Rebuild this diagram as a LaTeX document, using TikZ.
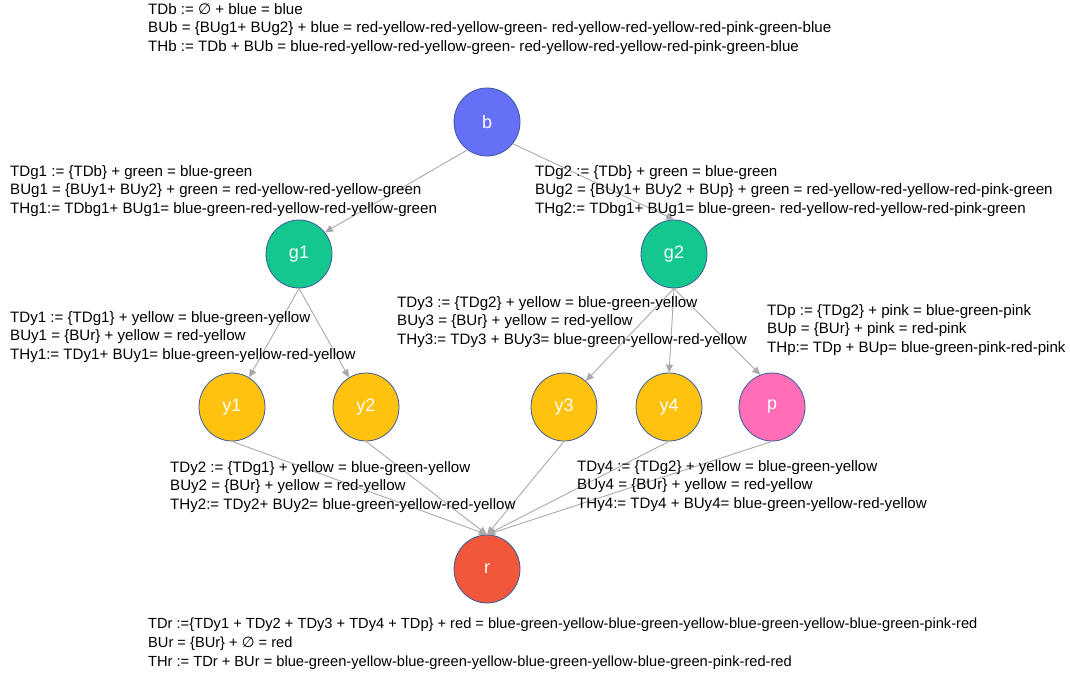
\documentclass[tikz,border=0pt]{standalone}
\usepackage{fontspec}
\setmainfont{Liberation Sans}
\newfontfamily\symfont{DejaVu Sans}
\usetikzlibrary{arrows.meta,shapes.geometric}
\definecolor{cb}{HTML}{6570F6}
\definecolor{cg}{HTML}{13C78E}
\definecolor{cy}{HTML}{FFC20E}
\definecolor{cp}{HTML}{FF6EB7}
\definecolor{cr}{HTML}{F0573B}
\definecolor{nodeedge}{HTML}{3A5A9A}
\definecolor{edgegray}{HTML}{AAAAAA}
\newcommand{\es}{{\symfont\char"2205}}
\begin{document}
\begin{tikzpicture}[x=1pt,y=-1pt,
  vert/.style={ellipse, draw=nodeedge, line width=0.8pt, minimum width=66pt, minimum height=68pt, inner sep=0pt, text=white, font=\fontsize{18}{18}\selectfont},
  info/.style={anchor=north west, inner sep=0pt, align=left, font=\fontsize{15.1}{18.6}\selectfont},
  link/.style={draw=edgegray, line width=0.9pt, -{Triangle[length=8pt,width=7pt]}}]
\useasboundingbox (0,0) rectangle (1070,677);
\fill[white] (0,0) rectangle (1070,677);

\node[vert, fill=cb] (b) at (487,122) {b};
\node[vert, fill=cg] (g1) at (299,254) {g1};
\node[vert, fill=cg] (g2) at (674,254) {g2};
\node[vert, fill=cy] (y1) at (232,407) {y1};
\node[vert, fill=cy] (y2) at (366,407) {y2};
\node[vert, fill=cy] (y3) at (564,407) {y3};
\node[vert, fill=cy] (y4) at (669,407) {y4};
\node[vert, fill=cp] (p) at (772,407) {p};
\node[vert, fill=cr] (r) at (487,569) {r};

\draw[link] (b.235) -- (g1.40);
\draw[link] (b.-40) -- (g2.north);
\draw[link] (g1.south) -- (y1.60);
\draw[link] (g1.south) -- (y2.120);
\draw[link] (g2.south) -- (y3.50);
\draw[link] (g2.south) -- (y4.north);
\draw[link] (g2.south) -- (p.110);
\draw[link] (y1.south) -- (r.north);
\draw[link] (y2.south) -- (r.north);
\draw[link] (y3.south) -- (r.north);
\draw[link] (y4.south) -- (r.north);
\draw[link] (p.south) -- (r.north);

\node[info] (tb) at (148,3) {TDb := \es{} + blue = blue\\
BUb = \{BUg1+ BUg2\} + blue = red-yellow-red-yellow-green- red-yellow-red-yellow-red-pink-green-blue\\
THb := TDb + BUb = blue-red-yellow-red-yellow-green- red-yellow-red-yellow-red-pink-green-blue};

\node[info] (tg1) at (10,165) {TDg1 := \{TDb\} + green = blue-green\\
BUg1 = \{BUy1+ BUy2\} + green = red-yellow-red-yellow-green\\
THg1:= TDbg1+ BUg1= blue-green-red-yellow-red-yellow-green};

\node[info] (tg2) at (535,165) {TDg2 := \{TDb\} + green = blue-green\\
BUg2 = \{BUy1+ BUy2 + BUp\} + green = red-yellow-red-yellow-red-pink-green\\
THg2:= TDbg1+ BUg1= blue-green- red-yellow-red-yellow-red-pink-green};

\node[info] (ty1) at (10,311) {TDy1 := \{TDg1\} + yellow = blue-green-yellow\\
BUy1 = \{BUr\} + yellow = red-yellow\\
THy1:= TDy1+ BUy1= blue-green-yellow-red-yellow};

\node[info] (ty3) at (397,296) {TDy3 := \{TDg2\} + yellow = blue-green-yellow\\
BUy3 = \{BUr\} + yellow = red-yellow\\
THy3:= TDy3 + BUy3= blue-green-yellow-red-yellow};

\node[info] (tp) at (767,304) {TDp := \{TDg2\} + pink = blue-green-pink\\
BUp = \{BUr\} + pink = red-pink\\
THp:= TDp + BUp= blue-green-pink-red-pink};

\node[info] (ty2) at (170,461) {TDy2 := \{TDg1\} + yellow = blue-green-yellow\\
BUy2 = \{BUr\} + yellow = red-yellow\\
THy2:= TDy2+ BUy2= blue-green-yellow-red-yellow};

\node[info] (ty4) at (577,460) {TDy4 := \{TDg2\} + yellow = blue-green-yellow\\
BUy4 = \{BUr\} + yellow = red-yellow\\
THy4:= TDy4 + BUy4= blue-green-yellow-red-yellow};

\node[info, font=\fontsize{14.65}{18.8}\selectfont] (tr) at (148,618) {TDr :=\{TDy1 + TDy2 + TDy3 + TDy4 + TDp\} + red = blue-green-yellow-blue-green-yellow-blue-green-yellow-blue-green-pink-red\\
BUr = \{BUr\} + \es{} = red\\
THr := TDr + BUr = blue-green-yellow-blue-green-yellow-blue-green-yellow-blue-green-pink-red-red};
\end{tikzpicture}
\end{document}
